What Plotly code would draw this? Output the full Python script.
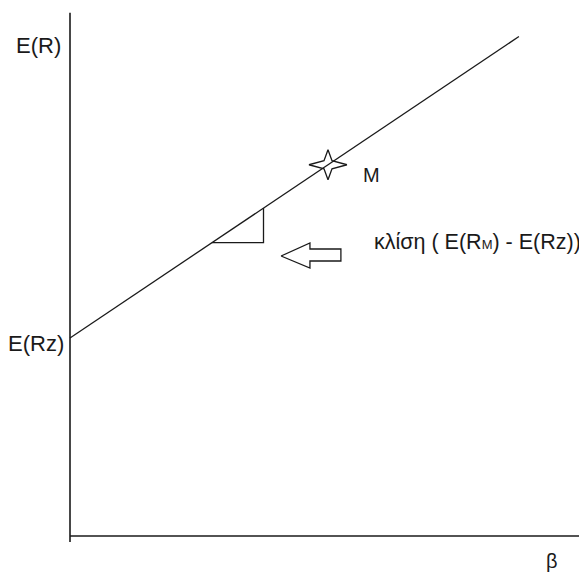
import plotly.graph_objects as go

# Security Market Line (conceptual values)
E_Rz = 4.0          # risk-free / zero-beta expected return
E_RM = 7.5          # market expected return
beta_M = 1.0        # market beta
beta_line = [0.0, 1.74]          # extent of the drawn line
beta_tri = [0.55, 0.75]          # slope-indicator triangle run
beta_axis_max = 2.05
E_axis = [-0.12, 10.57]          # vertical axis extent

slope = (E_RM - E_Rz) / beta_M
def sml(b):
    return E_Rz + slope * b

# outlined block arrow (beta, E) pointing left at the triangle
arrow_beta = [0.818, 0.930, 0.930, 1.050, 1.050, 0.930, 0.930, 0.818]
arrow_E = [5.657, 5.919, 5.798, 5.798, 5.556, 5.556, 5.414, 5.657]

FONT = "Liberation Sans, Arial, sans-serif"
INK = "#1a1a1a"

# page pixel geometry (the page body adds an 8px offset)
OFF = 8
X0, Y0 = 70.0, 536.0   # origin in window px
px_x = 258.0           # px per beta unit
px_y = 49.5            # px per E unit

def bx(px):
    return (px - X0) / px_x

def ey(py):
    return (Y0 - py) / px_y

fig = go.Figure()

# axes
fig.add_trace(go.Scatter(x=[0, 0], y=E_axis, mode="lines",
                         line=dict(color=INK, width=1.6), hoverinfo="skip"))
fig.add_trace(go.Scatter(x=[0, beta_axis_max], y=[0, 0], mode="lines",
                         line=dict(color=INK, width=1.6), hoverinfo="skip"))
# SML
fig.add_trace(go.Scatter(x=beta_line, y=[sml(b) for b in beta_line], mode="lines",
                         line=dict(color=INK, width=1.3), hoverinfo="skip"))
# slope triangle
b0, b1 = beta_tri
fig.add_trace(go.Scatter(x=[b0, b1, b1], y=[sml(b0), sml(b0), sml(b1)], mode="lines",
                         line=dict(color=INK, width=1.3), hoverinfo="skip"))
# arrow
fig.add_trace(go.Scatter(x=arrow_beta, y=arrow_E, mode="lines",
                         line=dict(color=INK, width=1.3), hoverinfo="skip"))
# market portfolio star (4-pointed outline around M, offsets in px)
star_dx = [19, 4, 0, -4, -19, -4, 0, 4, 19]
star_dy = [0, 4, 15, 4, 0, -4, -15, -4, 0]
fig.add_trace(go.Scatter(x=[beta_M + d / px_x for d in star_dx],
                         y=[E_RM + d / px_y for d in star_dy], mode="lines",
                         line=dict(color=INK, width=1.3), hoverinfo="skip"))

def ann(text, x, y, size=22, xanchor="center"):
    fig.add_annotation(x=x, y=y, xref="x", yref="y", text=text, showarrow=False,
                       xanchor=xanchor, yanchor="middle",
                       font=dict(family=FONT, size=size, color=INK))

ann("E(R)", bx(38), ey(45))
ann("E(Rz)", bx(36), ey(343))
ann("M", bx(361), ey(175), size=20, xanchor="left")
ann("κλίση ( E(R<span style='font-size:13px'>M</span>) - E(Rz))",
    bx(372), ey(242), size=21.5, xanchor="left")
ann("β", bx(552), ey(561), size=20)

W, H = 587, 574
fig.update_layout(
    width=W - OFF, height=H - OFF,
    margin=dict(l=0, r=0, t=0, b=0, pad=0),
    paper_bgcolor="white", plot_bgcolor="white",
    showlegend=False,
    xaxis=dict(range=[bx(OFF), bx(W)], visible=False, fixedrange=True),
    yaxis=dict(range=[ey(H), ey(OFF)], visible=False, fixedrange=True),
)

fig.write_html("out.html")
